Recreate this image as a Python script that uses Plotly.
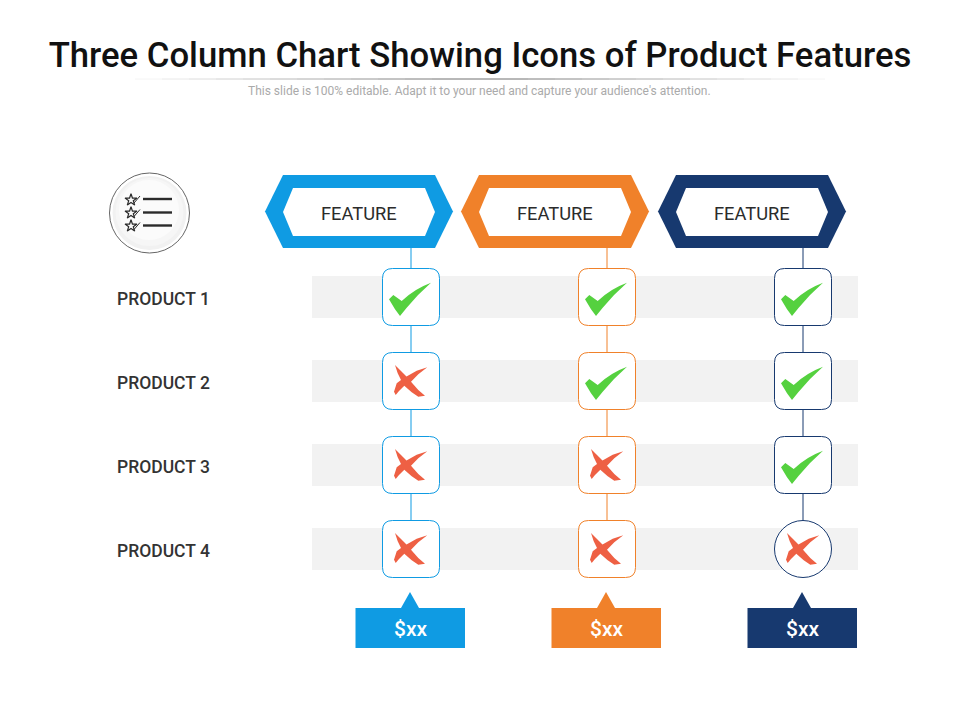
import plotly.graph_objects as go

title = "Three Column Chart Showing Icons of Product Features"
subtitle = "This slide is 100% editable. Adapt it to your need and capture your audience's attention."
features = ["FEATURE", "FEATURE", "FEATURE"]
products = ["PRODUCT 1", "PRODUCT 2", "PRODUCT 3", "PRODUCT 4"]
prices = ["$xx", "$xx", "$xx"]
# 1 = tick, 0 = cross, one list per feature column
feature_1 = [1, 0, 0, 0]
feature_2 = [1, 1, 0, 0]
feature_3 = [1, 1, 1, 0]

columns = [feature_1, feature_2, feature_3]
colors = ["#0f9be3", "#f0812a", "#17396f"]
GREEN = "#55d13f"
RED = "#ee6044"
FONT = "Roboto"

col_x = [411, 607, 803]
hex_x = [359, 555, 752]
row_y = [297, 381, 465, 549]
shapes = []
notes = []

# outline of the hand drawn cross, around the cell centre
CROSS = [(-16, -16), (-10, -10), (-4.5, -4.5), (5.7, -10.3), (16.3, -13.7), (7.3, -6.7), (0, 0.7),
         (7.3, 9), (14, 14.7), (7.3, 15.7), (0.7, 11.3), (-6.7, 4.7), (-12, 10), (-15.3, 14),
         (-17, 10.7), (-14.3, 2.3), (-10, -1), (-13.3, -7.7)]


def poly(points, fill, line_color=None, line_width=0):
    path = "M " + " L ".join(f"{x} {y}" for x, y in points) + " Z"
    shapes.append(dict(type="path", path=path, fillcolor=fill, layer="below",
                       line=dict(color=line_color or fill, width=line_width)))


def rect(x0, y0, x1, y1, fill):
    shapes.append(dict(type="rect", x0=x0, y0=y0, x1=x1, y1=y1, fillcolor=fill,
                       line_width=0, layer="below"))


def seg(x0, y0, x1, y1, color, width):
    shapes.append(dict(type="line", x0=x0, y0=y0, x1=x1, y1=y1, layer="below",
                       line=dict(color=color, width=width)))


def circle(cx, cy, r, fill, line_color=None, width=0):
    shapes.append(dict(type="circle", x0=cx - r, y0=cy - r, x1=cx + r, y1=cy + r,
                       fillcolor=fill, layer="below",
                       line=dict(color=line_color or fill, width=width)))


def round_box(cx, cy, half, r, color):
    a, b = cx - half, cx + half
    c, d = cy - half, cy + half
    path = (f"M {a + r} {c} L {b - r} {c} Q {b} {c} {b} {c + r} L {b} {d - r} Q {b} {d} {b - r} {d} "
            f"L {a + r} {d} Q {a} {d} {a} {d - r} L {a} {c + r} Q {a} {c} {a + r} {c} Z")
    shapes.append(dict(type="path", path=path, fillcolor="white", layer="below",
                       line=dict(color=color, width=1)))


def tick(cx, cy):
    path = (f"M {cx - 22} {cy + 2.3} L {cx - 17.7} {cy - 2} L {cx - 9.3} {cy + 4} "
            f"Q {cx + 3} {cy - 8} {cx + 20} {cy - 14.3} Q {cx + 7} {cy - 3} {cx - 4.3} {cy + 10.7} "
            f"L {cx - 11} {cy + 19} L {cx - 16} {cy + 12.3} Z")
    shapes.append(dict(type="path", path=path, fillcolor=GREEN, line_width=0, layer="below"))


def cross(cx, cy):
    poly([(cx + dx, cy + dy) for dx, dy in CROSS], RED)


def text(x, y, s, size, color, weight=500):
    notes.append(dict(x=x, y=y, text=s, showarrow=False, xanchor="center", yanchor="middle",
                      font=dict(family=FONT, size=size, color=color, weight=weight)))


# rule under the title, fades out from the middle
for k in range(12):
    half = 345 - k * 27
    shade = 244 - k * 6
    seg(480 - half, 79, 480 + half, 79, f"rgb({shade},{shade},{shade})", 1)

# grey row bands
for y in row_y:
    rect(312, y - 21, 858, y + 21, "#f2f2f2")

# icon top left
circle(149.5, 213, 40, "white", "#666666", 1)
circle(149.5, 213, 37, "#f1f1f1")
circle(149.5, 212, 34, "#f6f6f6")
circle(149, 210, 30, "#fbfbfb")
icon_y = [199, 212.5, 225.5]
for y in icon_y:
    seg(143, y, 172, y, "#2b2b2b", 2.4)
    seg(134, y + 4, 140, y - 3, "#2b2b2b", 1)

for i, col in enumerate(columns):
    cx = col_x[i]
    hx = hex_x[i]
    c = colors[i]
    seg(cx, 248, cx, row_y[-1], c, 1)
    poly([(hx - 76, 175), (hx + 76, 175), (hx + 94, 211.5), (hx + 76, 248), (hx - 76, 248), (hx - 94, 211.5)], c)
    poly([(hx - 66, 188), (hx + 66, 188), (hx + 76, 212), (hx + 66, 236), (hx - 66, 236), (hx - 76, 212)], "white")
    text(hx, 213.5, features[i], 18.3, "#2b2b2b", 400)
    for j, val in enumerate(col):
        y = row_y[j]
        if i == 2 and j == 3:
            circle(cx, y, 28.5, "white", c, 1)
        else:
            round_box(cx, y, 28.5, 10, c)
        if val:
            tick(cx, y)
        else:
            cross(cx, y)
    # price tag
    rect(cx - 55.5, 608, cx + 54, 648, c)
    poly([(cx - 10, 608), (cx - 1, 592), (cx + 8, 608)], c)
    text(cx - 1, 628.5, prices[i], 21, "white")

for j, p in enumerate(products):
    text(163.5, row_y[j] + 2, p, 17.5, "#333333")

text(479, 91, subtitle, 12, "#aaaaaa", 400)

fig = go.Figure()
# small stars of the list icon
fig.add_trace(go.Scatter(x=[131, 131, 131], y=[200, 213, 226], mode="markers", hoverinfo="skip",
                         marker=dict(symbol="star-open", size=9, color="#2b2b2b", line=dict(width=1.2, color="#2b2b2b"))))

# the page keeps an 8px body margin, so the axes start at 8
fig.update_layout(
    width=952, height=712,
    margin=dict(l=0, r=0, t=0, b=0),
    paper_bgcolor="white", plot_bgcolor="white",
    showlegend=False,
    title=dict(text=title, x=(480 - 8) / 952, xanchor="center", y=1 - (55 - 8) / 712, yanchor="middle",
               font=dict(family=FONT, size=34.7, color="#111111", weight=500)),
    xaxis=dict(range=[8, 960], visible=False, fixedrange=True),
    yaxis=dict(range=[720, 8], visible=False, fixedrange=True),
    shapes=shapes,
    annotations=notes,
)

fig.write_html("out.html")
